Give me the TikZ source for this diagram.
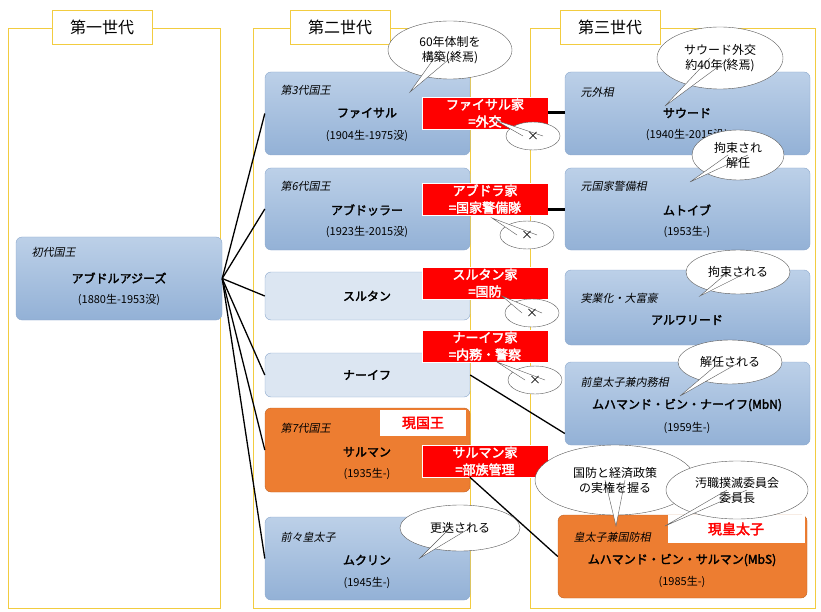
\documentclass[tikz,border=0pt]{standalone}
\usepackage{fontspec}
\setmainfont{Noto Sans CJK JP}[AutoFakeBold=2.5]
\newfontfamily\jpit{Noto Sans CJK JP}[FakeSlant=0.2]
\usetikzlibrary{fit,shapes.geometric,calc}
\definecolor{gold}{HTML}{F2CC40}
\definecolor{bluetop}{HTML}{BCD0E8}
\definecolor{bluebot}{HTML}{93B1D6}
\definecolor{bordb}{HTML}{8CA8CC}
\definecolor{lightb}{HTML}{DCE6F2}
\definecolor{orng}{HTML}{ED7D31}
\definecolor{redlab}{HTML}{FF0000}
\tikzset{
 col/.style={draw=gold,line width=0.8pt,inner sep=0},
 hdr/.style={draw=gold,fill=white,line width=0.8pt,minimum width=100pt,minimum height=34pt,font=\fontsize{16}{18}\selectfont},
 bluebox/.style={draw=bordb,rounded corners=6pt,top color=bluetop,bottom color=bluebot,inner sep=0},
 lightbox/.style={draw=bordb,rounded corners=6pt,fill=lightb,inner sep=0},
 orbox/.style={draw=orng!80!black,rounded corners=6pt,fill=orng,inner sep=0},
 role/.style={anchor=west,font=\jpit\fontsize{11}{12}\selectfont},
 nm/.style={font=\bfseries\fontsize{12}{14}\selectfont},
 yr/.style={font=\fontsize{11}{12}\selectfont},
 fam/.style={fill=redlab,draw=white,text=white,font=\bfseries\fontsize{13}{17}\selectfont,align=center,minimum width=126pt,inner sep=1.5pt},
 bub/.style={ellipse,draw=gray!70!black,fill=white,inner sep=0},
 bubtext/.style={align=center,font=\fontsize{12}{15}\selectfont,inner sep=0},
 tail/.style={draw=gray!70!black},
 lnk/.style={line width=1.3pt},
 thick link/.style={line width=3pt},
 cur/.style={fill=white,text=redlab,font=\bfseries\fontsize{14}{16}\selectfont,inner sep=0},
}
\begin{document}
\begin{tikzpicture}[x=1pt,y=-1pt]
\useasboundingbox (0,0) rectangle (821,612);
% columns
\node[col,fit={(8,28)(220,608)}] (c1) {};
\node[col,fit={(253,28)(470,608)}] (c2) {};
\node[col,fit={(530,28)(815,608)}] (c3) {};
\node[hdr] (h1) at (102,27) {第一世代};
\node[hdr] (h2) at (340,27) {第二世代};
\node[hdr] (h3) at (610,27) {第三世代};
% gen1
\node[bluebox,fit={(16,237)(222,320)}] (g1) {};
\node[role] (g1r) at (28,252) {初代国王};
\node[nm] (g1n) at (119,278) {アブドルアジーズ};
\node[yr] (g1y) at (119,300) {(1880生-1953没)};
% gen2
\node[bluebox,fit={(265,72)(470,155)}] (fa) {};
\node[role] (far) at (277,90) {第3代国王};
\node[nm] (fan) at (367,113) {ファイサル};
\node[yr] (fay) at (367,136) {(1904生-1975没)};
\node[bluebox,fit={(265,168)(470,250)}] (ab) {};
\node[role] (abr) at (277,186) {第6代国王};
\node[nm] (abn) at (367,210) {アブドッラー};
\node[yr] (aby) at (367,232) {(1923生-2015没)};
\node[lightbox,fit={(265,272)(470,320)}] (su) {};
\node[nm] (sun) at (367,296) {スルタン};
\node[lightbox,fit={(265,353)(470,397)}] (na) {};
\node[nm] (nan) at (367,375) {ナーイフ};
\node[orbox,fit={(265,408)(470,492)}] (sa) {};
\node[role] (sar) at (277,428) {第7代国王};
\node[nm] (san) at (367,452) {サルマン};
\node[yr] (say) at (367,474) {(1935生-)};
\node[cur,minimum width=86pt,minimum height=26pt] (king) at (423,423) {現国王};
\node[bluebox,fit={(265,517)(470,600)}] (mu) {};
\node[role] (mur) at (277,537) {前々皇太子};
\node[nm] (mun) at (367,560) {ムクリン};
\node[yr] (muy) at (367,583) {(1945生-)};
% gen3
\node[bluebox,fit={(565,72)(810,155)}] (sd) {};
\node[role] (sdr) at (577,92) {元外相};
\node[nm] (sdn) at (687,113) {サウード};
\node[yr] (sdy) at (687,135) {(1940生-2015没)};
\node[bluebox,fit={(565,168)(810,250)}] (mt) {};
\node[role] (mtr) at (577,186) {元国家警備相};
\node[nm] (mtn) at (687,210) {ムトイブ};
\node[yr] (mty) at (687,232) {(1953生-)};
\node[bluebox,fit={(565,270)(810,345)}] (al) {};
\node[role] (alr) at (577,298) {実業化・大富豪};
\node[nm] (aln) at (687,320) {アルワリード};
\node[bluebox,fit={(565,362)(810,445)}] (mn) {};
\node[role] (mnr) at (577,382) {前皇太子兼内務相};
\node[nm] (mnn) at (687,405) {ムハマンド・ビン・ナーイフ(MbN)};
\node[yr] (mny) at (687,428) {(1959生-)};
\node[orbox,fit={(558,515)(807,598)}] (ms) {};
\node[role] (msr) at (570,537) {皇太子兼国防相};
\node[nm] (msn) at (682,560) {ムハマンド・ビン・サルマン(MbS)};
\node[yr] (msy) at (682,582) {(1985生-)};
\node[cur,minimum width=137pt,minimum height=28pt] (prince) at (736,529) {現皇太子};
% links gen1 -> gen2
\foreach \t in {fa,ab,su,na,sa,mu} \draw[lnk] (g1.east) -- (\t.west);
% family labels
\node[fam] (ffa) at (485,113) {ファイサル家\\=外交};
\node[fam] (fab) at (485,199) {アブドラ家\\=国家警備隊};
\node[fam] (fsu) at (485,283) {スルタン家\\=国防};
\node[fam] (fna) at (485,346) {ナーイフ家\\=内務・警察};
\node[fam] (fsa) at (485,461) {サルマン家\\=部族管理};
\draw[thick link] (ffa.east) -- (ffa.east -| sd.west);
\draw[thick link] (fab.east |- 0,210) coordinate (abe) -- (abe -| mt.west);
\draw[lnk] (na.east) -- ($(mn.west)+(0,30)$) coordinate (mnin);
\draw[lnk] ($(fsa.south west)!0.38!(fsa.south east)$) coordinate (fsas) -- (ms.west);
% bubbles
\newcommand\bubble[5]{% name, center, tail tip, text, size
 \path (#2) coordinate (#1c);
 \node[bub,#5] (#1e) at (#1c) {};
 \fill[white] ($(#1c)+(-10,0)$) -- (#3) -- ($(#1c)+(10,0)$) -- cycle;
 \draw[tail] ($(#1c)+(-10,0)$) -- (#3) -- ($(#1c)+(10,0)$);
 \node[bub,#5,draw=none,fill=none] (#1e2) at (#1c) {};
 \node[bubtext] (#1) at (#1c) {#4};
}
\bubble{b1}{450,50}{410,92}{60年体制を\\構築(終焉)}{minimum width=124pt,minimum height=58pt}
\bubble{b2}{720,58}{665,106}{サウード外交\\約40年(終焉)}{minimum width=126pt,minimum height=62pt}
\bubble{b3}{738,155}{690,182}{拘束され\\解任}{minimum width=92pt,minimum height=50pt}
\bubble{x1}{533,136}{495,120}{×}{minimum width=54pt,minimum height=28pt}
\bubble{x2}{527,235}{492,218}{×}{minimum width=54pt,minimum height=28pt}
\bubble{x3}{532,313}{502,296}{×}{minimum width=54pt,minimum height=28pt}
\bubble{x4}{535,380}{497,362}{×}{minimum width=54pt,minimum height=28pt}
\bubble{b4}{738,272}{700,296}{拘束される}{minimum width=104pt,minimum height=44pt}
\bubble{b5}{730,362}{680,396}{解任される}{minimum width=104pt,minimum height=44pt}
\bubble{b6}{615,480}{616,526}{国防と経済政策\\の実権を握る}{minimum width=160pt,minimum height=70pt}
\bubble{b7}{737,490}{665,526}{汚職撲滅委員会\\委員長}{minimum width=142pt,minimum height=58pt}
\bubble{b8}{460,528}{420,558}{更迭される}{minimum width=120pt,minimum height=46pt}
\end{tikzpicture}
\end{document}
